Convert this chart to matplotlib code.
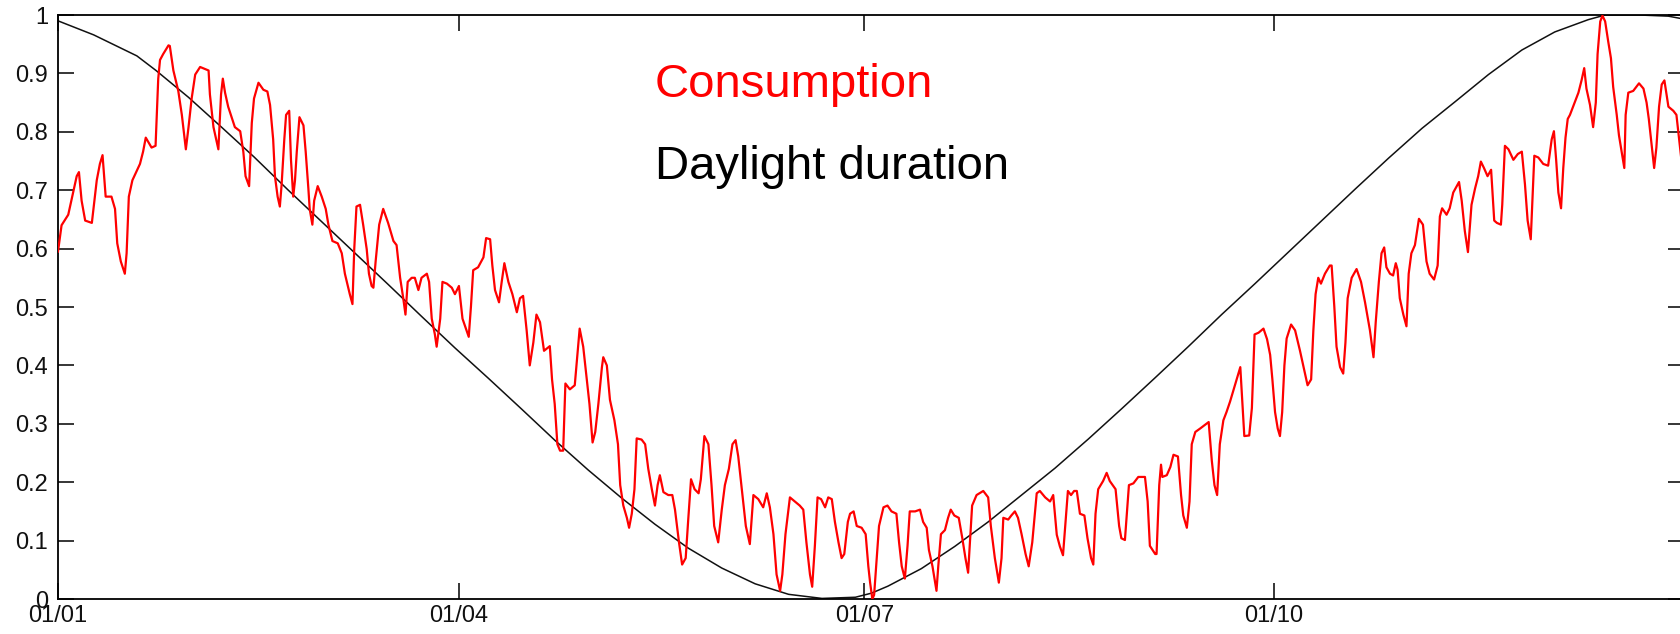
import matplotlib
matplotlib.use("Agg")
import matplotlib.pyplot as plt

plt.rcParams["font.family"] = ["Liberation Sans", "DejaVu Sans"]

# ---- data (day of year, value) ----
consumption = [
    (0, 0.595), (0.8, 0.64), (2.3, 0.658), (3.4, 0.696), (4.2, 0.724), (4.7, 0.731), (5.3, 0.682),
    (6.1, 0.648), (7.6, 0.644), (8.7, 0.717), (9.4, 0.745), (10.0, 0.76), (10.7, 0.689), (12.0, 0.689),
    (12.8, 0.668), (13.3, 0.609), (14.1, 0.578), (15.0, 0.557), (15.4, 0.592), (15.9, 0.689),
    (16.7, 0.717), (18.4, 0.745), (19.1, 0.766), (19.7, 0.79), (21.0, 0.773), (21.9, 0.776),
    (22.5, 0.891), (22.9, 0.923), (23.6, 0.933), (24.8, 0.948), (25.1, 0.947), (25.9, 0.905),
    (27.0, 0.87), (27.8, 0.829), (28.7, 0.77), (29.3, 0.808), (30.0, 0.857), (30.8, 0.898),
    (31.9, 0.911), (33.8, 0.905), (34.1, 0.864), (34.9, 0.808), (36.0, 0.77), (36.6, 0.864),
    (37.0, 0.891), (37.5, 0.867), (38.2, 0.843), (39.7, 0.808), (40.9, 0.801), (41.6, 0.766),
    (42.1, 0.724), (42.9, 0.707), (43.5, 0.815), (44.0, 0.857), (45.0, 0.884), (46.1, 0.872),
    (47.0, 0.869), (47.6, 0.846), (48.3, 0.787), (48.7, 0.724), (49.3, 0.689), (49.8, 0.672),
    (50.2, 0.71), (50.8, 0.787), (51.2, 0.829), (51.9, 0.836), (52.3, 0.752), (52.8, 0.689),
    (53.2, 0.717), (53.6, 0.766), (54.2, 0.825), (55.1, 0.811), (55.6, 0.766), (56.2, 0.703),
    (56.5, 0.668), (57.1, 0.641), (57.5, 0.682), (58.3, 0.707), (59.2, 0.689), (60.1, 0.668),
    (60.7, 0.641), (61.6, 0.613), (62.8, 0.609), (63.7, 0.592), (64.4, 0.557), (65.5, 0.522),
    (66.1, 0.505), (66.5, 0.599), (67.0, 0.672), (67.8, 0.675), (68.5, 0.641), (69.3, 0.599),
    (69.8, 0.557), (70.4, 0.536), (70.8, 0.533), (71.3, 0.578), (72.1, 0.641), (73.0, 0.668),
    (74.1, 0.644), (75.3, 0.613), (76.0, 0.606), (76.8, 0.55), (77.5, 0.515), (78.0, 0.487),
    (78.5, 0.543), (79.4, 0.55), (80.1, 0.55), (80.9, 0.529), (81.6, 0.55), (82.8, 0.557),
    (83.3, 0.543), (83.9, 0.48), (84.6, 0.453), (85.0, 0.432), (85.8, 0.48), (86.3, 0.543),
    (87.3, 0.54), (88.4, 0.533), (89.1, 0.522), (90.0, 0.536), (90.8, 0.48), (91.7, 0.46),
    (92.2, 0.449), (92.7, 0.501), (93.2, 0.563), (94.3, 0.568), (95.5, 0.585), (96.1, 0.618),
    (97.0, 0.616), (97.5, 0.571), (98.1, 0.529), (99.0, 0.508), (99.6, 0.543), (100.2, 0.575),
    (101.1, 0.543), (102.0, 0.522), (103.0, 0.491), (103.7, 0.515), (104.4, 0.519), (105.2, 0.46),
    (105.9, 0.40), (106.7, 0.439), (107.4, 0.487), (108.2, 0.474), (109.1, 0.425), (110.4, 0.433),
    (110.9, 0.376), (111.5, 0.334), (112.1, 0.265), (112.7, 0.254), (113.4, 0.254), (113.9, 0.369),
    (114.9, 0.359), (116.0, 0.366), (116.6, 0.418), (117.1, 0.463), (117.9, 0.432), (118.7, 0.376),
    (119.3, 0.334), (120.0, 0.268), (120.6, 0.286), (121.3, 0.334), (122.1, 0.397), (122.4, 0.414),
    (123.2, 0.40), (123.9, 0.341), (124.9, 0.306), (125.7, 0.265), (126.2, 0.195), (126.9, 0.16),
    (127.7, 0.139), (128.2, 0.122), (128.8, 0.146), (129.4, 0.188), (129.9, 0.275), (131.0, 0.273),
    (131.8, 0.265), (132.5, 0.223), (133.3, 0.188), (134.0, 0.16), (134.6, 0.195), (135.1, 0.212),
    (135.9, 0.183), (137.0, 0.178), (137.9, 0.178), (138.5, 0.153), (139.4, 0.097), (140.1, 0.059),
    (140.9, 0.07), (141.5, 0.139), (142.1, 0.205), (142.9, 0.188), (143.8, 0.181), (144.3, 0.205),
    (145.1, 0.279), (146.0, 0.265), (146.7, 0.195), (147.3, 0.125), (148.2, 0.097), (149.0, 0.153),
    (149.7, 0.195), (150.6, 0.223), (151.4, 0.265), (152.1, 0.272), (152.7, 0.244), (153.6, 0.181),
    (154.4, 0.125), (155.3, 0.094), (156.1, 0.178), (157.2, 0.171), (158.3, 0.157), (159.1, 0.181),
    (159.8, 0.157), (160.6, 0.111), (161.3, 0.042), (162.1, 0.014), (162.6, 0.042), (163.3, 0.111),
    (164.3, 0.174), (165.4, 0.167), (166.5, 0.16), (167.3, 0.153), (168.0, 0.097), (168.8, 0.042),
    (169.3, 0.021), (169.9, 0.091), (170.5, 0.174), (171.3, 0.171), (172.2, 0.157), (172.9, 0.174),
    (173.7, 0.171), (174.4, 0.132), (175.2, 0.097), (175.9, 0.07), (176.5, 0.077), (177.3, 0.132),
    (177.8, 0.146), (178.6, 0.15), (179.3, 0.125), (180.4, 0.122), (181.3, 0.111), (181.9, 0.056),
    (182.3, 0.028), (182.8, 0.0), (183.2, 0.007), (183.8, 0.07), (184.3, 0.125), (185.3, 0.157),
    (186.2, 0.16), (187.1, 0.15), (188.2, 0.146), (188.8, 0.097), (189.4, 0.056), (190.1, 0.035),
    (190.7, 0.091), (191.2, 0.15), (192.4, 0.15), (193.5, 0.153), (194.2, 0.132), (195.0, 0.122),
    (195.5, 0.084), (196.3, 0.056), (197.2, 0.014), (197.6, 0.056), (198.2, 0.111), (199.1, 0.118),
    (199.8, 0.139), (200.4, 0.153), (201.2, 0.143), (202.2, 0.139), (203.0, 0.104), (203.7, 0.07),
    (204.3, 0.045), (204.7, 0.097), (205.2, 0.16), (206.2, 0.178), (207.7, 0.185), (208.8, 0.174),
    (209.4, 0.125), (210.3, 0.07), (211.2, 0.028), (211.8, 0.07), (212.2, 0.139), (213.3, 0.136),
    (214.0, 0.143), (214.8, 0.15), (215.5, 0.139), (216.3, 0.111), (217.2, 0.077), (217.9, 0.056),
    (218.7, 0.097), (219.7, 0.181), (220.4, 0.185), (221.6, 0.174), (222.7, 0.167), (223.4, 0.178),
    (224.2, 0.11), (224.9, 0.09), (225.6, 0.075), (226.2, 0.135), (226.7, 0.185), (227.4, 0.178),
    (228.1, 0.185), (228.7, 0.185), (229.4, 0.146), (230.4, 0.143), (231.1, 0.104), (231.9, 0.07),
    (232.4, 0.059), (232.9, 0.146), (233.5, 0.188), (234.6, 0.202), (235.4, 0.216), (236.1, 0.202),
    (237.4, 0.188), (238.2, 0.125), (238.7, 0.104), (239.5, 0.101), (240.4, 0.195), (241.4, 0.198),
    (242.5, 0.209), (244.0, 0.209), (244.6, 0.167), (245.1, 0.091), (246.3, 0.077), (246.6, 0.077),
    (247.2, 0.195), (247.6, 0.23), (247.9, 0.209), (248.9, 0.212), (249.7, 0.226), (250.4, 0.247),
    (251.4, 0.244), (252.1, 0.178), (252.6, 0.143), (253.4, 0.122), (254.0, 0.167), (254.5, 0.265),
    (255.3, 0.286), (256.4, 0.292), (258.3, 0.303), (259.0, 0.237), (259.6, 0.195), (260.2, 0.178),
    (260.8, 0.265), (261.6, 0.306), (262.3, 0.32), (263.1, 0.338), (264.2, 0.366), (265.4, 0.397),
    (266.3, 0.279), (267.4, 0.28), (268.0, 0.327), (268.6, 0.453), (269.5, 0.456), (270.6, 0.463),
    (271.4, 0.445), (272.1, 0.418), (272.6, 0.376), (273.2, 0.32), (273.8, 0.292), (274.3, 0.279),
    (274.8, 0.32), (275.3, 0.40), (275.8, 0.446), (276.8, 0.47), (277.7, 0.46), (278.8, 0.425),
    (279.8, 0.39), (280.5, 0.366), (281.3, 0.376), (281.8, 0.46), (282.3, 0.522), (282.9, 0.55),
    (283.5, 0.54), (284.4, 0.557), (285.5, 0.571), (285.9, 0.571), (286.5, 0.501), (287.0, 0.432),
    (287.8, 0.397), (288.5, 0.386), (289.0, 0.439), (289.5, 0.515), (290.4, 0.55), (291.5, 0.565),
    (292.5, 0.543), (293.4, 0.508), (294.5, 0.46), (295.3, 0.414), (295.8, 0.474), (296.5, 0.543),
    (297.1, 0.592), (297.7, 0.602), (298.2, 0.568), (299.0, 0.557), (299.7, 0.554), (300.3, 0.575),
    (300.7, 0.564), (301.2, 0.515), (302.0, 0.487), (302.7, 0.467), (303.2, 0.557), (303.8, 0.592),
    (304.6, 0.606), (305.5, 0.651), (306.4, 0.641), (307.2, 0.578), (307.9, 0.557), (308.9, 0.547),
    (309.7, 0.571), (310.2, 0.655), (310.7, 0.669), (311.7, 0.658), (312.4, 0.669), (313.2, 0.696),
    (314.5, 0.714), (315.1, 0.682), (315.8, 0.63), (316.5, 0.594), (317.3, 0.675), (318.1, 0.703),
    (318.8, 0.724), (319.4, 0.749), (320.1, 0.738), (320.9, 0.724), (321.7, 0.735), (322.4, 0.648),
    (323.0, 0.644), (323.9, 0.641), (324.2, 0.675), (324.8, 0.776), (325.6, 0.77), (326.7, 0.752),
    (327.7, 0.762), (328.6, 0.766), (329.3, 0.71), (329.9, 0.648), (330.6, 0.616), (331.4, 0.759),
    (332.3, 0.756), (333.4, 0.745), (334.5, 0.742), (335.3, 0.787), (335.8, 0.801), (336.3, 0.752),
    (336.8, 0.696), (337.4, 0.669), (337.9, 0.738), (338.4, 0.79), (338.9, 0.822), (339.4, 0.829),
    (340.1, 0.843), (341.3, 0.867), (342.0, 0.888), (342.6, 0.909), (343.1, 0.874), (343.9, 0.846),
    (344.6, 0.808), (345.2, 0.85), (345.6, 0.933), (346.2, 0.989), (346.7, 0.999), (347.3, 0.989),
    (348.0, 0.954), (348.6, 0.926), (349.1, 0.877), (349.9, 0.829), (350.4, 0.794), (351.0, 0.766),
    (351.6, 0.738), (351.9, 0.829), (352.5, 0.867), (353.6, 0.87), (354.9, 0.883), (355.9, 0.874),
    (356.6, 0.85), (357.1, 0.822), (357.7, 0.78), (358.3, 0.738), (358.8, 0.773), (359.4, 0.843),
    (360.0, 0.881), (360.6, 0.888), (361.5, 0.843), (362.6, 0.836), (363.3, 0.829), (363.8, 0.794),
    (364.3, 0.759), (365.0, 0.74),
]
cons_days = [d for d, v in consumption]
cons_vals = [v for d, v in consumption]

daylight_days = [0, 8, 17.7, 22, 29.3, 36.7, 44, 51.7, 59.2, 66.7, 74.2, 81.6, 89.1, 96.6, 104.1,
                 111.5, 119, 126.5, 134, 141.5, 149, 156.5, 164, 171.5, 179, 182.6, 186.3, 193.8,
                 201.3, 208.8, 216.3, 223.8, 231.3, 238.8, 246.3, 253.7, 261.2, 268.7, 276.2,
                 283.7, 291.2, 298.7, 306.2, 313.7, 321.1, 328.6, 336, 343.5, 347.3, 355, 361.5, 365]
daylight_vals = [0.99, 0.966, 0.93, 0.905, 0.859, 0.808, 0.757, 0.70, 0.646, 0.592, 0.538, 0.484,
                 0.43, 0.378, 0.325, 0.272, 0.221, 0.173, 0.128, 0.087, 0.053, 0.026, 0.008, 0.001,
                 0.003, 0.01, 0.022, 0.052, 0.09, 0.132, 0.178, 0.224, 0.274, 0.326, 0.379, 0.432,
                 0.487, 0.54, 0.594, 0.648, 0.702, 0.755, 0.806, 0.852, 0.898, 0.94, 0.971, 0.992,
                 1.0, 1.0, 0.998, 0.993]

xtick_days = [0, 90, 181, 273]
xtick_labels = ["01/01", "01/04", "01/07", "01/10"]
ytick_vals = [0, 0.1, 0.2, 0.3, 0.4, 0.5, 0.6, 0.7, 0.8, 0.9, 1]
ytick_labels = ["0", "0.1", "0.2", "0.3", "0.4", "0.5", "0.6", "0.7", "0.8", "0.9", "1"]

# ---- figure ----
W, H = 1681, 634
fig = plt.figure(figsize=(W / 100, H / 100), dpi=100)
fig.patch.set_facecolor("white")
left, right, top, bottom = 58, 1684, 15, 599
ax = fig.add_axes([left / W, 1 - bottom / H, (right - left) / W, (bottom - top) / H])

ax.plot(daylight_days, daylight_vals, color="#111111", lw=1.1, zorder=2)
ax.plot(cons_days, cons_vals, color="#ff0000", lw=1.6, zorder=3)

ax.set_xlim(0, 365)
ax.set_ylim(0, 1)
ax.set_xticks(xtick_days)
ax.set_xticklabels(xtick_labels)
ax.set_yticks(ytick_vals)
ax.set_yticklabels(ytick_labels)

ax.tick_params(axis="both", direction="in", top=True, right=True,
               length=11.5, width=1.1, color="black",
               labelsize=17, labelcolor="#111111")
ax.tick_params(axis="x", pad=4.0)
ax.tick_params(axis="y", pad=7)
for sp in ax.spines.values():
    sp.set_linewidth(1.3)
    sp.set_color("black")

fig.text(655 / W, 1 - 97 / H, "Consumption", color="#ff0000", fontsize=34,
         family="Liberation Sans", va="baseline", ha="left")
fig.text(655 / W, 1 - 179 / H, "Daylight duration", color="black", fontsize=34,
         family="Liberation Sans", va="baseline", ha="left")

fig.savefig("out.png", dpi=100, facecolor="white")
